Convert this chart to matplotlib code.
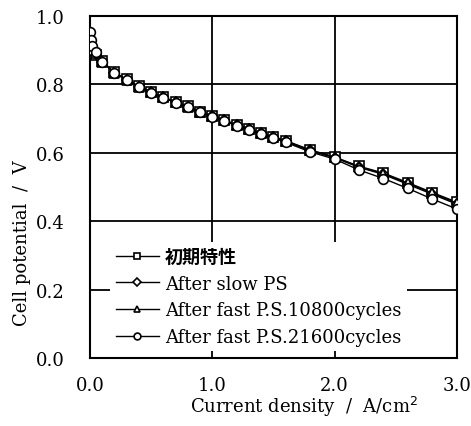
import numpy as np
import matplotlib
matplotlib.use('Agg')
import matplotlib.pyplot as plt

plt.rcParams['font.family'] = ['DejaVu Serif', 'Noto Sans CJK JP']

# current density, A/cm2
x = [0.0, 0.01, 0.02, 0.05, 0.1, 0.2, 0.3, 0.4, 0.5, 0.6, 0.7, 0.8, 0.9, 1.0,
     1.1, 1.2, 1.3, 1.4, 1.5, 1.6, 1.8, 2.0, 2.2, 2.4, 2.6, 2.8, 3.0]

v_init = [0.920, 0.895, 0.889, 0.885, 0.868, 0.836, 0.815, 0.795, 0.778, 0.763,
          0.749, 0.736, 0.721, 0.708, 0.696, 0.682, 0.671, 0.658, 0.647, 0.636,
          0.609, 0.588, 0.561, 0.541, 0.513, 0.484, 0.456]
v_slow = [0.935, 0.905, 0.895, 0.890, 0.867, 0.835, 0.814, 0.794, 0.777, 0.762,
          0.748, 0.735, 0.720, 0.707, 0.695, 0.681, 0.670, 0.657, 0.646, 0.634,
          0.607, 0.586, 0.558, 0.537, 0.508, 0.479, 0.450]
v_10800 = [0.940, 0.915, 0.900, 0.892, 0.867, 0.835, 0.814, 0.794, 0.777, 0.762,
           0.748, 0.735, 0.720, 0.707, 0.695, 0.681, 0.670, 0.657, 0.646, 0.634,
           0.607, 0.587, 0.559, 0.539, 0.511, 0.482, 0.453]
v_21600 = [0.952, 0.930, 0.913, 0.896, 0.866, 0.833, 0.813, 0.793, 0.776, 0.761,
           0.747, 0.734, 0.719, 0.706, 0.693, 0.679, 0.668, 0.654, 0.643, 0.631,
           0.603, 0.582, 0.550, 0.525, 0.496, 0.465, 0.436]

labels = ['初期特性', 'After slow PS', 'After fast P.S.10800cycles',
          'After fast P.S.21600cycles']
markers = ['s', 'D', '^', 'o']
sizes = [6.5, 5.5, 6.5, 7]

fig = plt.figure(figsize=(4.71, 4.27), dpi=100)
ax = fig.add_axes([0.191, 0.159, 0.779, 0.801])

for v, lab, m, ms in zip([v_init, v_slow, v_10800, v_21600], labels, markers, sizes):
    ax.plot(x, v, color='black', lw=1.0, marker=m, ms=ms, mfc='white',
            mec='black', mew=1.2, label=lab, zorder=3)

ax.set_xlim(0, 3.0)
ax.set_ylim(0, 1.0)
ax.set_xticks([0, 1, 2, 3])
ax.set_yticks(np.arange(0, 1.01, 0.2))
ax.xaxis.set_major_formatter(plt.FormatStrFormatter('%.1f'))
ax.yaxis.set_major_formatter(plt.FormatStrFormatter('%.1f'))
ax.grid(True, color='black', lw=1.3, zorder=1)
ax.set_axisbelow(True)
for s in ax.spines.values():
    s.set_linewidth(1.5)
ax.tick_params(direction='in', length=0, labelsize=13)
ax.tick_params(axis='x', pad=13)
ax.tick_params(axis='y', pad=18)

ax.set_xlabel('Current density  /  A/cm$^2$', fontsize=13, x=0.583, labelpad=0)
ax.set_ylabel('Cell potential  /  V', fontsize=13, y=0.34, labelpad=4)

leg = ax.legend(loc='lower left', bbox_to_anchor=(0.055, 0.02),
                frameon=True, fancybox=False, framealpha=1, edgecolor='none',
                facecolor='white', fontsize=13, markerscale=0.7,
                handlelength=2.4, handletextpad=0.35, labelspacing=0.48,
                borderaxespad=0.0, borderpad=0.3)
leg.set_zorder(5)
leg.get_texts()[0].set_fontweight('bold')

plt.savefig('out.png', dpi=100)
